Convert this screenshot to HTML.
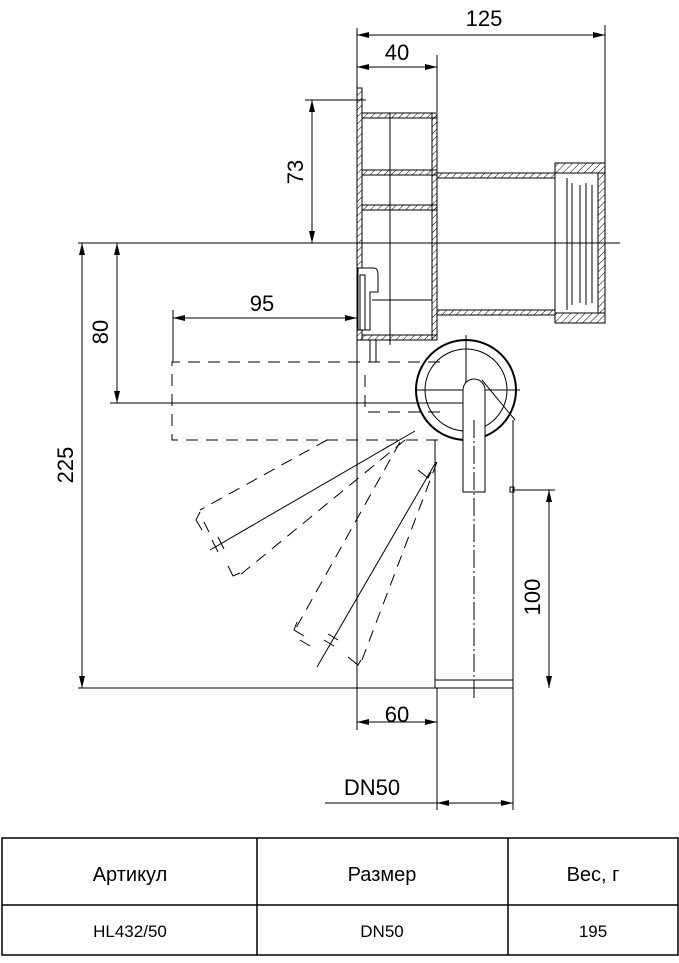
<!DOCTYPE html>
<html><head><meta charset="utf-8"><style>
html,body{margin:0;padding:0;background:#fff;width:679px;height:963px;overflow:hidden}
svg{display:block}
text{font-family:"Liberation Sans Narrow","Liberation Sans",sans-serif;fill:#000}
</style></head><body>
<svg width="679" height="963" viewBox="0 0 679 963" xmlns="http://www.w3.org/2000/svg">
<defs>
<marker id="a" viewBox="0 0 12 6" refX="12" refY="3" markerWidth="12" markerHeight="6" orient="auto-start-reverse" markerUnits="userSpaceOnUse"><path d="M0,0 L12,3 L0,6z" fill="#000"/></marker>
<pattern id="h" width="5" height="5" patternUnits="userSpaceOnUse" patternTransform="rotate(45)"><line x1="0" y1="0" x2="0" y2="5" stroke="#000" stroke-width="1"/></pattern>
</defs>
<g stroke="#000" stroke-width="1" fill="none">
<line x1="357" y1="28" x2="357" y2="730"/>
<line x1="605" y1="25" x2="605" y2="165"/>
<line x1="437" y1="55" x2="437" y2="112"/>
<line x1="305" y1="100" x2="366" y2="100"/>
<line x1="78" y1="243" x2="620" y2="243"/>
<line x1="110" y1="403" x2="475" y2="403"/>
<line x1="173" y1="310" x2="173" y2="362"/>
<line x1="78" y1="688" x2="513" y2="688"/>
<line x1="512" y1="490" x2="555" y2="490"/>
<line x1="437" y1="688" x2="437" y2="810"/>
<line x1="513" y1="688" x2="513" y2="810"/>
<line x1="357" y1="35" x2="605" y2="35" marker-start="url(#a)" marker-end="url(#a)"/>
<line x1="357" y1="67" x2="437" y2="67" marker-start="url(#a)" marker-end="url(#a)"/>
<line x1="312" y1="100" x2="312" y2="243" marker-start="url(#a)" marker-end="url(#a)"/>
<line x1="82" y1="243" x2="82" y2="688" marker-start="url(#a)" marker-end="url(#a)"/>
<line x1="117" y1="243" x2="117" y2="403" marker-start="url(#a)" marker-end="url(#a)"/>
<line x1="173" y1="318" x2="357" y2="318" marker-start="url(#a)" marker-end="url(#a)"/>
<line x1="549" y1="490" x2="549" y2="688" marker-start="url(#a)" marker-end="url(#a)"/>
<line x1="357" y1="722" x2="437" y2="722" marker-start="url(#a)" marker-end="url(#a)"/>
<line x1="325" y1="803" x2="437" y2="803"/>
<line x1="437" y1="803" x2="513" y2="803" marker-start="url(#a)" marker-end="url(#a)"/>
<rect x="357" y="88" width="5" height="252" fill="url(#h)"/>
<rect x="362" y="113" width="75" height="5" fill="url(#h)"/>
<rect x="362" y="170" width="75" height="5" fill="url(#h)"/>
<rect x="362" y="205" width="75" height="5" fill="url(#h)"/>
<rect x="362" y="335" width="75" height="5" fill="url(#h)"/>
<rect x="432" y="113" width="5" height="227" fill="url(#h)"/>
<rect x="437" y="173" width="118" height="5" fill="url(#h)"/>
<rect x="437" y="310" width="118" height="5" fill="url(#h)"/>
<line x1="390" y1="113" x2="390" y2="345"/>
<line x1="372" y1="300" x2="432" y2="300"/>
<path d="M358,268 H374 Q378,268 378,275 V292 H370 V330 H358 Z" fill="#fff"/>
<rect x="360" y="275" width="5" height="55"/>
<line x1="370" y1="340" x2="370" y2="362"/>
<line x1="376" y1="340" x2="376" y2="362"/>
<rect x="555" y="163" width="50" height="10" fill="url(#h)"/>
<rect x="555" y="313" width="50" height="10" fill="url(#h)"/>
<rect x="598" y="173" width="7" height="140" fill="url(#h)"/>
<line x1="567" y1="178" x2="567" y2="310"/>
<line x1="572" y1="183" x2="572" y2="305"/>
<line x1="580" y1="185" x2="580" y2="303"/>
<line x1="586" y1="183" x2="586" y2="305"/>
<line x1="592" y1="185" x2="592" y2="303"/>
<line x1="555" y1="173" x2="555" y2="313"/>
<circle cx="466" cy="390" r="50" stroke-width="2"/>
<circle cx="466" cy="390" r="41"/>
<line x1="466" y1="335" x2="466" y2="440"/>
<line x1="415" y1="390" x2="520" y2="390"/>
<path d="M463,492 V390 A11,11 0 0 1 485,390 V492 Z" fill="#fff"/>
<line x1="474" y1="420" x2="474" y2="700" stroke-dasharray="18,3,2,3"/>
<line x1="435" y1="440" x2="435" y2="688"/>
<line x1="513" y1="420" x2="513" y2="688"/>
<line x1="435" y1="680" x2="513" y2="680"/>
<line x1="482" y1="380" x2="515" y2="420"/>
<rect x="510" y="487" width="4" height="5"/>
<g stroke-dasharray="12,8">
<path d="M440,362 H172 V440 H440"/>
<path d="M365,375 V412 H440"/>
<line x1="327" y1="440" x2="200" y2="510"/>
<line x1="405" y1="440" x2="240" y2="575"/>
<line x1="400" y1="442" x2="296" y2="628"/>
<line x1="437" y1="462" x2="362" y2="660"/>
</g>
<line x1="415" y1="431" x2="210" y2="550"/>
<line x1="436" y1="462" x2="317" y2="667"/>
<path d="M200,512 l-4,8 l6,10 M204,522 l5,10"/>
<path d="M212,540 l6,12 M218,537 l6,12"/>
<path d="M228,566 l5,10 l7,-3"/>
<path d="M297,622 l-3,8 l10,6 M300,640 l10,6"/>
<path d="M324,640 l10,6 M328,634 l10,6"/>
<path d="M348,657 l10,8 l3,-5"/>
<path d="M418,470 l10,8 l3,-6"/>
</g>
<g font-size="22">
<text x="484" y="26" text-anchor="middle">125</text>
<text x="397" y="60" text-anchor="middle">40</text>
<text x="262" y="311" text-anchor="middle">95</text>
<text x="397" y="722" text-anchor="middle">60</text>
<text x="372" y="795" text-anchor="middle">DN50</text>
<text transform="translate(303,172) rotate(-90)" text-anchor="middle">73</text>
<text transform="translate(108,332) rotate(-90)" text-anchor="middle">80</text>
<text transform="translate(73,465) rotate(-90)" text-anchor="middle">225</text>
<text transform="translate(540,597) rotate(-90)" text-anchor="middle">100</text>
</g>
<g stroke="#000" stroke-width="1.5" fill="none">
<rect x="2" y="838" width="676" height="117"/>
<line x1="2" y1="905" x2="678" y2="905"/>
<line x1="257" y1="838" x2="257" y2="955"/>
<line x1="508" y1="838" x2="508" y2="955"/>
</g>
<g font-size="20" text-anchor="middle">
<text x="130" y="881">Артикул</text>
<text x="382" y="881">Размер</text>
<text x="593" y="881">Вес, г</text>
</g>
<g font-size="17" text-anchor="middle">
<text x="130" y="937">HL432/50</text>
<text x="382" y="937">DN50</text>
<text x="593" y="937">195</text>
</g>
</svg>
</body></html>
